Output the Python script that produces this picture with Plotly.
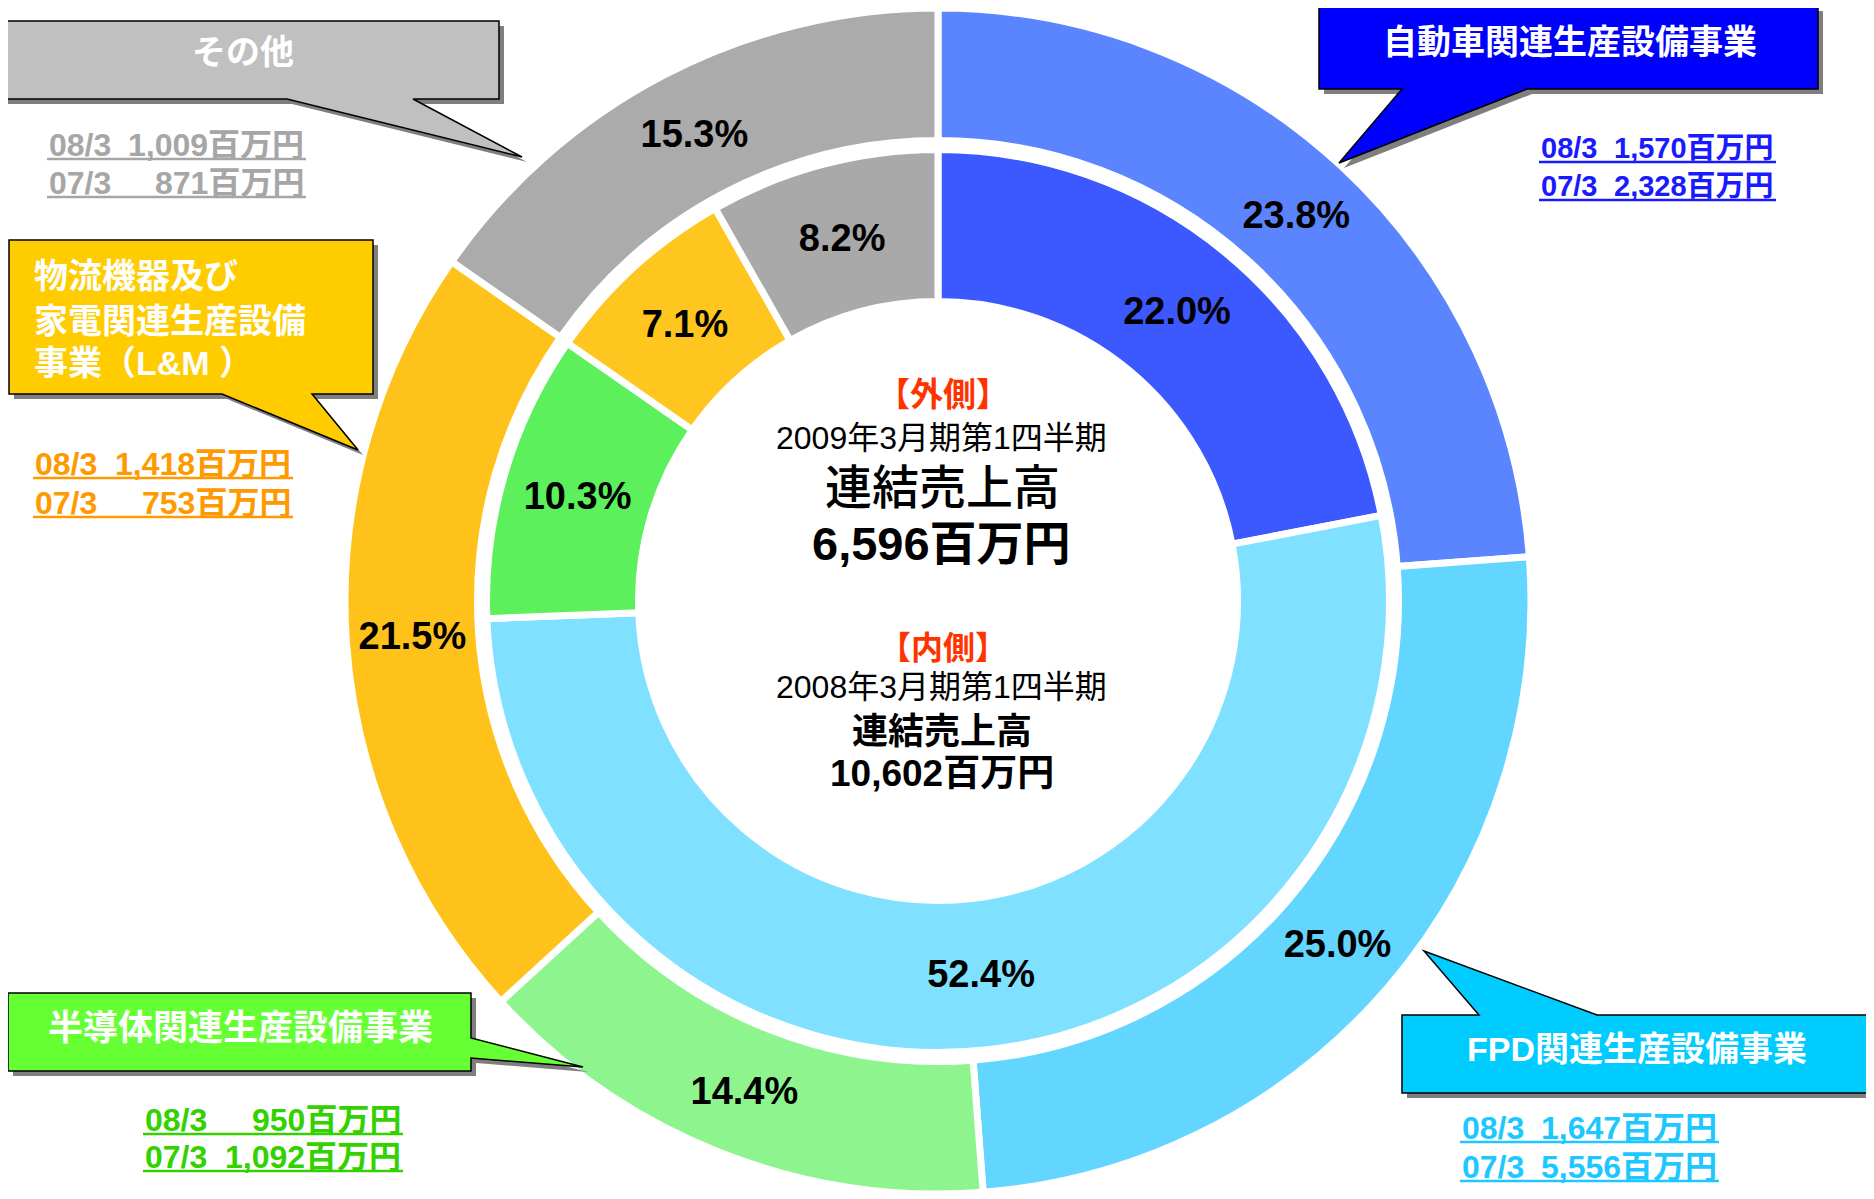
import plotly.graph_objects as go

# page is 1874x1199; browser body adds an 8px margin, so the figure is sized to fit
OFF = 8
W, H = 1874 - OFF, 1199 - OFF

# ---------------- data ----------------
categories = ["自動車関連生産設備事業", "FPD関連生産設備事業", "半導体関連生産設備事業",
              "物流機器及び家電関連生産設備事業（L&M）", "その他"]
sales_08 = [1570, 1647, 950, 1418, 1009]     # outer ring (2009年3月期第1四半期)
sales_07 = [2328, 5556, 1092, 753, 871]      # inner ring (2008年3月期第1四半期)
period_08 = "08/3"
period_07 = "07/3"
total_outer = "6,596百万円"
total_inner = "10,602百万円"

outer_colors = ["#5b84ff", "#62d6ff", "#8ef58e", "#ffc21a", "#ababab"]
inner_colors = ["#3c58ff", "#80e0ff", "#5cf05c", "#ffc61f", "#a9a9a9"]
box_colors = ["#0000ff", "#00ccff", "#66ff33", "#ffcc00", "#c0c0c0"]
value_colors = ["#1a1aff", "#1ec8ff", "#33d100", "#ff9900", "#a6a6a6"]

JP = "Liberation Sans, Noto Sans CJK JP, sans-serif"


def px(x):
    return (x - OFF) / W


def py(y):
    return 1 - (y - OFF) / H


fig = go.Figure()

# ---------------- donuts ----------------
cx, cy = 938, 601
line_w = 7


def dom(r):
    return dict(x=[max(0, px(cx - r)), min(1, px(cx + r))],
                y=[max(0, py(cy + r)), min(1, py(cy - r))])


R_out = min(593 + line_w / 2, cy - OFF)
hole_out = 464 - line_w / 2
R_in, hole_in = 448 + line_w / 2, 303 - line_w / 2

pct_font = dict(family="Liberation Sans, Arial", size=38, color="black", weight="bold")

fig.add_trace(go.Pie(
    labels=categories, values=sales_08, sort=False, direction="clockwise", rotation=0,
    hole=hole_out / R_out, domain=dom(R_out),
    marker=dict(colors=outer_colors, line=dict(color="white", width=line_w)),
    texttemplate="%{percent:.1%}", textposition="inside", insidetextorientation="horizontal",
    insidetextfont=pct_font, hoverinfo="label+value+percent", showlegend=False,
))
fig.add_trace(go.Pie(
    labels=categories, values=sales_07, sort=False, direction="clockwise", rotation=0,
    hole=hole_in / R_in, domain=dom(R_in),
    marker=dict(colors=inner_colors, line=dict(color="white", width=line_w)),
    texttemplate="%{percent:.1%}", textposition="inside", insidetextorientation="horizontal",
    insidetextfont=pct_font, hoverinfo="label+value+percent", showlegend=False,
))

# ---------------- callouts ----------------
shapes = []
annotations = []


def path_of(pts, dx=0, dy=0):
    return "M " + " L ".join(f"{px(x + dx):.5f},{py(y + dy):.5f}" for x, y in pts) + " Z"


callouts = [
    ([(1319, 6), (1818, 6), (1818, 89), (1527, 89), (1339, 163), (1402, 89), (1319, 89)], box_colors[0]),
    ([(1402, 1015), (1479, 1015), (1424, 951), (1597, 1015), (1873, 1015), (1873, 1093), (1402, 1093)], box_colors[1]),
    ([(8, 993), (471, 993), (471, 1038), (583, 1067), (471, 1058), (471, 1071), (8, 1071)], box_colors[2]),
    ([(9, 240), (373, 240), (373, 394), (312, 394), (358, 450), (222, 394), (9, 394)], box_colors[3]),
    ([(-4, 21), (499, 21), (499, 99), (413, 99), (522, 157), (287, 99), (-4, 99)], box_colors[4]),
]
for pts, fill in callouts:
    shapes.append(dict(type="path", xref="paper", yref="paper", path=path_of(pts, 5, 5),
                       fillcolor="#7f7f7f", line=dict(width=0), layer="above"))
    shapes.append(dict(type="path", xref="paper", yref="paper", path=path_of(pts),
                       fillcolor=fill, line=dict(color="black", width=1.5), layer="above"))


def add_text(x, y, text, size, color, weight="bold", xanchor="center", family=JP):
    annotations.append(dict(xref="paper", yref="paper", x=px(x), y=py(y), text=text,
                            showarrow=False, xanchor=xanchor, yanchor="middle",
                            font=dict(family=family, size=size, color=color, weight=weight)))


# callout titles
add_text(1570, 42, categories[0], 34, "white")
add_text(1637, 1049, "FPD関連生産設備事業", 34, "white")
add_text(240, 1028, categories[2], 35, "white")
add_text(32, 276, "物流機器及び", 34, "white", xanchor="left")
add_text(32, 321, "家電関連生産設備", 34, "white", xanchor="left")
add_text(32, 363, "事業（L&M ）", 34, "white", xanchor="left")
add_text(243, 52, categories[4], 34, "white")

# value lines: (x_left, x_right, y_line1, y_line2, font size)
value_pos = [
    (1539, 1776, 148, 186, 29),
    (1460, 1719, 1128, 1167, 32),
    (143, 403, 1120, 1157, 32),
    (33, 293, 464, 503, 32),
    (47, 306, 145, 183, 32),
]
for i, (xl, xr, y1, y2, fs) in enumerate(value_pos):
    col = value_colors[i]
    for per, val, yy in ((period_08, sales_08[i], y1), (period_07, sales_07[i], y2)):
        add_text(xl, yy, per, fs, col, xanchor="left")
        add_text(xr, yy, f"{val:,}百万円", fs, col, xanchor="right")
        shapes.append(dict(type="line", xref="paper", yref="paper",
                           x0=px(xl), x1=px(xr), y0=py(yy + 14), y1=py(yy + 14),
                           line=dict(color=col, width=2.5), layer="above"))

# centre texts
RED = "#ff3300"
add_text(943, 395, "【外側】", 33, RED)
add_text(941, 438, "2009年3月期第1四半期", 32, "black", weight="normal")
add_text(942, 488, "連結売上高", 47, "black", weight=500)
add_text(941, 543, total_outer, 47, "black")
add_text(943, 648, "【内側】", 32, RED)
add_text(941, 687, "2008年3月期第1四半期", 32, "black", weight="normal")
add_text(942, 731, "連結売上高", 36, "black")
add_text(942, 773, total_inner, 37, "black")

fig.update_layout(
    width=W, height=H, margin=dict(l=0, r=0, t=0, b=0),
    paper_bgcolor="white", plot_bgcolor="white",
    showlegend=False, shapes=shapes, annotations=annotations,
)

fig.write_html("out.html")
